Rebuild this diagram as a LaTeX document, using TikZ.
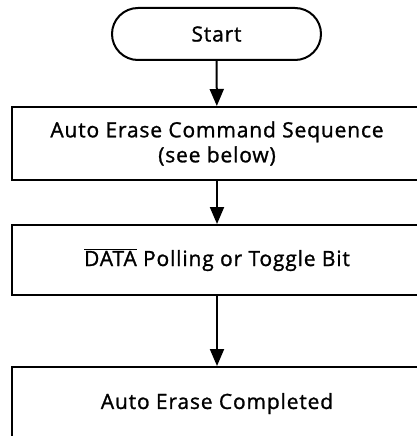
\documentclass[tikz,border=0pt]{standalone}
\usepackage{fontspec}
\setmainfont{Open Sans}[FakeBold=1.2, LetterSpace=4]
\usetikzlibrary{positioning, arrows.meta}

\begin{document}
\begin{tikzpicture}[x=1pt, y=-1pt, font=\fontsize{21}{25}\selectfont,
    box/.style={draw, line width=2pt, minimum width=410pt, align=center},
    flow/.style={-{Triangle[width=14pt, length=17pt]}, line width=2pt}]
    \useasboundingbox (0,0) rectangle (416,436);
    \node[draw, rounded corners=26pt, line width=2pt, minimum width=209pt, minimum height=52pt] (start) at (216.5,34) {Start};
    \node[box, minimum height=73pt] (seq) at (217,143.5) {Auto Erase Command Sequence\\(see below)};
    \node[box, minimum height=70pt] (poll) at (217,260) {$\overline{\mbox{DATA}}$ Polling or Toggle Bit};
    \node[box, minimum height=73pt] (done) at (217,403.5) {Auto Erase Completed};
    \draw[flow] (start) -- (seq);
    \draw[flow] (seq) -- (poll);
    \draw[flow] (poll) -- (done);
\end{tikzpicture}
\end{document}
